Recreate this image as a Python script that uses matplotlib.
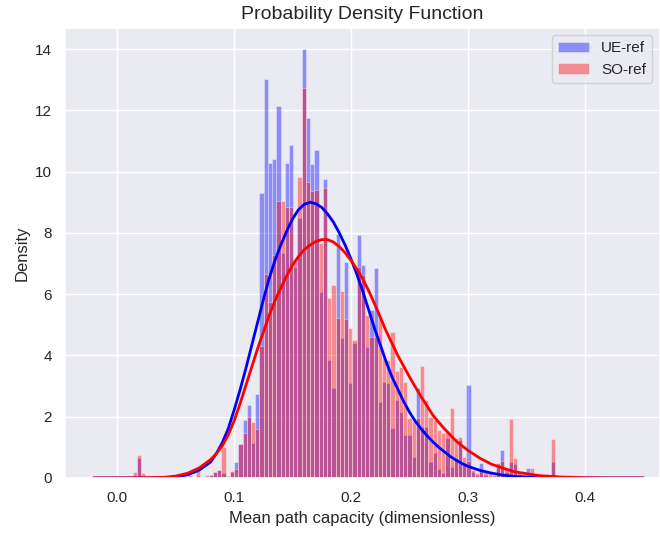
import numpy as np
import matplotlib
matplotlib.use("Agg")
import matplotlib.pyplot as plt
import seaborn as sns

sns.set_theme(style="darkgrid")
plt.rcParams['font.family'] = ['Liberation Sans', 'DejaVu Sans']

# histogram grid (shared by both series)
bin_start = 0.0135
bin_width = 0.00361

# density per bin
ue_density = [
    0, 0.65, 0, 0, 0, 0, 0, 0.05, 0, 0,
    0, 0, 0, 0.1, 0, 0.05, 0, 0.1, 0.1, 0.2,
    0.25, 0.15, 0.05, 0.2, 0.53, 1.1, 1.9, 2.38, 1.14, 2.74,
    9.29, 13.02, 10.29, 10.4, 12.15, 7.34, 10.29, 10.87, 6.9, 8.47,
    14.0, 11.76, 10.24, 10.7, 6.08, 9.75, 3.85, 2.93, 7.95, 4.56,
    7.06, 3.1, 4.4, 7.93, 6.95, 4.29, 5.48, 6.84, 2.49, 3.14,
    3.1, 1.62, 2.55, 2.14, 1.4, 1.4, 0.7, 2.93, 1.67, 1.67,
    0.53, 0.8, 0.3, 0.15, 1.3, 0.35, 0.6, 1.25, 0.5, 3.04,
    0.2, 0.1, 0.48, 0.1, 0.05, 0.05, 0.45, 0.91, 0.2, 0.52,
    0.45, 0.1, 0.05, 0.32, 0.1, 0.05, 0.1, 0, 0, 0.53,
]
so_density = [
    0.19, 0.75, 0.15, 0, 0, 0, 0, 0.05, 0, 0,
    0, 0, 0, 0.05, 0, 0.24, 0, 0.05, 0.1, 0.2,
    0.25, 1.0, 0.05, 0.24, 0.3, 1.1, 1.48, 1.98, 1.84, 1.6,
    4.31, 6.66, 5.73, 7.28, 9.05, 9.05, 8.86, 8.86, 7.14, 9.83,
    12.72, 9.67, 9.38, 9.4, 7.66, 9.47, 5.86, 6.3, 5.21, 6.1,
    5.2, 4.9, 4.5, 6.9, 6.63, 5.32, 4.59, 4.59, 5.21, 3.9,
    3.85, 4.78, 3.5, 3.63, 3.14, 1.95, 1.85, 1.95, 3.66, 2.55,
    2.0, 1.9, 1.57, 1.46, 1.5, 2.27, 1.3, 1.33, 0.7, 0.55,
    0.26, 0.15, 0.25, 0.2, 0.2, 0.1, 0.5, 0.57, 0.3, 1.91,
    0.64, 0.15, 0.1, 0.1, 0.32, 0.05, 0.1, 0, 0, 1.26,
]

# fitted pdf curves, sampled from the figure
curve_x = [-0.02, 0.0, 0.02, 0.04, 0.05, 0.06, 0.07,
           0.08, 0.085, 0.09, 0.095, 0.10, 0.105, 0.11, 0.115, 0.12, 0.125,
           0.13, 0.135, 0.14, 0.145, 0.15, 0.155, 0.16, 0.165, 0.17, 0.175,
           0.18, 0.185, 0.19, 0.195, 0.20, 0.205, 0.21, 0.215, 0.22, 0.225,
           0.23, 0.235, 0.24, 0.245, 0.25, 0.255, 0.26, 0.265, 0.27, 0.275,
           0.28, 0.285, 0.29, 0.295, 0.30,
           0.31, 0.32, 0.33, 0.34, 0.36, 0.38, 0.40, 0.42, 0.45]
ue_curve = [0, 0, 0, 0.005, 0.03, 0.1, 0.25,
            0.52, 0.8, 1.15, 1.6, 2.2, 2.85, 3.55, 4.3, 5.05, 5.8,
            6.5, 7.1, 7.6, 8.05, 8.45, 8.75, 8.93, 9.0, 8.95, 8.83,
            8.62, 8.35, 8.0, 7.6, 7.15, 6.65, 6.1, 5.5, 4.9, 4.35,
            3.8, 3.3, 2.9, 2.5, 2.15, 1.85, 1.6, 1.38, 1.18, 1.0,
            0.85, 0.7, 0.58, 0.47, 0.38,
            0.25, 0.16, 0.09, 0.05, 0.02, 0.005, 0, 0, 0]
so_curve = [0, 0, 0.005, 0.02, 0.06, 0.15, 0.32,
            0.6, 0.8, 1.05, 1.4, 1.85, 2.4, 3.0, 3.6, 4.2, 4.75,
            5.3, 5.78, 6.2, 6.6, 6.95, 7.22, 7.45, 7.6, 7.72, 7.78,
            7.78, 7.7, 7.55, 7.35, 7.1, 6.82, 6.5, 6.12, 5.7, 5.25,
            4.8, 4.4, 4.0, 3.65, 3.3, 2.97, 2.65, 2.35, 2.05, 1.82,
            1.6, 1.4, 1.2, 1.05, 0.9,
            0.65, 0.45, 0.32, 0.2, 0.08, 0.03, 0.01, 0, 0]

edges = bin_start + bin_width * np.arange(len(ue_density))

fig = plt.figure(figsize=(6.6, 5.34), dpi=100)
ax = fig.add_axes([0.0985, 0.1049, 0.9015, 0.8434])

ax.bar(edges, ue_density, width=bin_width, align="edge", color="blue",
       alpha=0.4, edgecolor="white", linewidth=0.6, label="UE-ref")
ax.bar(edges, so_density, width=bin_width, align="edge", color="red",
       alpha=0.4, edgecolor="white", linewidth=0.6, label="SO-ref")
ax.plot(curve_x, ue_curve, color="blue", lw=2)
ax.plot(curve_x, so_curve, color="red", lw=2)

ax.set_xlim(-0.0444, 0.4641)
ax.set_ylim(0, 14.7)
ax.set_xticks([0.0, 0.1, 0.2, 0.3, 0.4])
ax.set_yticks(range(0, 15, 2))
ax.tick_params(labelsize=11)
ax.set_title("Probability Density Function", fontsize=14)
ax.set_xlabel("Mean path capacity (dimensionless)", fontsize=12)
ax.set_ylabel("Density", fontsize=12)
ax.legend(loc="upper right", fontsize=11)

fig.savefig("out.png", dpi=100)
